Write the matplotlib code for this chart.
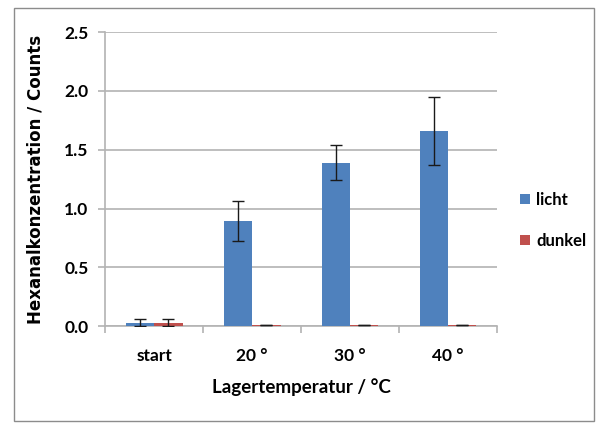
import numpy as np
import matplotlib.pyplot as plt
from matplotlib.patches import Rectangle

# Daten
categories = ['start', '20 °', '30 °', '40 °']
licht = [0.03, 0.89, 1.39, 1.66]
licht_err = [0.03, 0.17, 0.15, 0.29]
dunkel = [0.03, 0.01, 0.01, 0.01]
dunkel_err = [0.03, 0.0, 0.0, 0.0]
y_ticks = [0.0, 0.5, 1.0, 1.5, 2.0, 2.5]

blue = '#4f81bd'
red = '#c0504d'
grid_col = '#b3b3b3'

fig = plt.figure(figsize=(5.98, 4.23), dpi=100)
# Rahmen um das ganze Diagramm
fig.patches.append(Rectangle((14 / 598, 2 / 423), 580 / 598, 413 / 423, transform=fig.transFigure,
                             fill=False, edgecolor='#8c8c8c', linewidth=1.0))

ax = fig.add_axes([0.176, 0.229, 0.655, 0.695])
x = np.arange(len(categories))
w = 0.29
ax.bar(x - w / 2, licht, w, color=blue, yerr=licht_err, capsize=4,
       error_kw=dict(ecolor='#1a1a1a', elinewidth=1, capthick=1), label='licht', zorder=3)
ax.bar(x + w / 2, dunkel, w, color=red, yerr=dunkel_err, capsize=4,
       error_kw=dict(ecolor='#1a1a1a', elinewidth=1, capthick=1), label='dunkel', zorder=3)

ax.set_xlim(-0.5, len(categories) - 0.5)
ax.set_ylim(0, 2.5)
ax.set_yticks(y_ticks)
ax.set_yticklabels([f'{v:.1f}' for v in y_ticks])
ax.yaxis.grid(True, color=grid_col, linewidth=1.2, zorder=0)
ax.set_axisbelow(True)

for s in ['top', 'right']:
    ax.spines[s].set_visible(False)
for s in ['left', 'bottom']:
    ax.spines[s].set_color(grid_col)
    ax.spines[s].set_linewidth(1.2)

ax.set_xticks(x)
ax.set_xticklabels(categories, fontsize=12.5, fontweight='bold', fontfamily='Lato')
ax.tick_params(axis='x', length=0, pad=16)
ax.set_xticks(np.arange(-0.5, len(categories)), minor=True)
ax.tick_params(axis='x', which='minor', length=5, color=grid_col, width=1.2)
ax.tick_params(axis='y', length=5, color=grid_col, width=1.2, pad=7)
for lab in ax.get_yticklabels():
    lab.set_fontsize(12.5)
    lab.set_fontweight('bold')
    lab.set_fontfamily('Lato')

ax.set_xlabel('Lagertemperatur / °C', fontsize=13.5, fontweight='bold', fontfamily='Lato', labelpad=10)
ax.set_ylabel('Hexanalkonzentration / Counts', fontsize=12, fontweight='bold', labelpad=14)

leg = ax.legend(loc='center left', bbox_to_anchor=(1.02, 0.36), frameon=False,
                prop=dict(family='Lato', weight='bold', size=12), handlelength=0.6,
                handleheight=0.6, handletextpad=0.4, labelspacing=1.5)

fig.savefig('out.png', dpi=100)
